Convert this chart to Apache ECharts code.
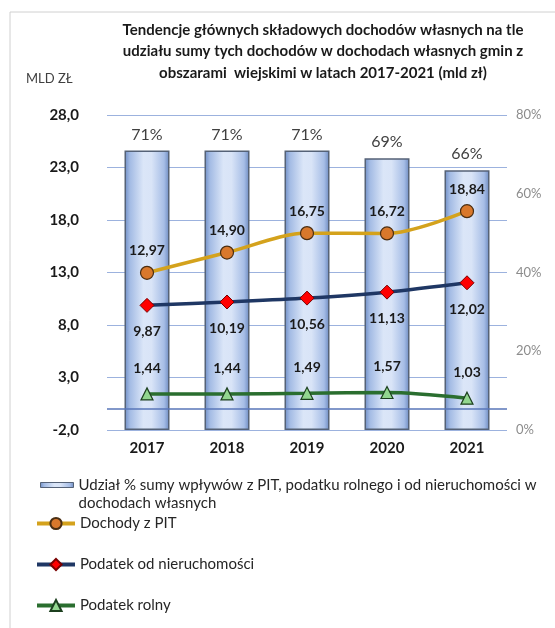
<!DOCTYPE html>
<html>
<head>
<meta charset="utf-8">
<script src="https://cdn.jsdelivr.net/npm/echarts@6/dist/echarts.min.js"></script>
<style>
  html, body { margin: 0; padding: 0; background: #fff; }
  #chart { width: 555px; height: 628px; }
</style>
</head>
<body>
<div id="chart"></div>
<script>
// lata
const years = ['2017', '2018', '2019', '2020', '2021'];
// udział % (prawa oś)
const shareValues = [71, 71, 71, 69, 66];
// mld zł (lewa oś)
const pitValues = [12.97, 14.90, 16.75, 16.72, 18.84];
const propertyTaxValues = [9.87, 10.19, 10.56, 11.13, 12.02];
const agriTaxValues = [1.44, 1.44, 1.49, 1.57, 1.03];

const seriesNames = [
  'Udział % sumy wpływów z PIT, podatku rolnego i od nieruchomości w dochodach własnych',
  'Dochody z PIT',
  'Podatek od nieruchomości',
  'Podatek rolny',
];

const FONT = 'Lato, "Open Sans", sans-serif';
const comma = (v) => Number(v).toFixed(2).replace('.', ',');

const chart = echarts.init(document.getElementById('chart'));

const barGradient = new echarts.graphic.LinearGradient(0, 0, 1, 0, [
  { offset: 0, color: '#6d8cc4' },
  { offset: 0.12, color: '#a3bbe4' },
  { offset: 0.42, color: '#dbe6f8' },
  { offset: 0.6, color: '#d9e4f7' },
  { offset: 0.88, color: '#a6bde6' },
  { offset: 1, color: '#6a88bf' },
]);

// ikonka legendy słupków: cienki pasek przy pierwszej linii tekstu
const barLegendIcon = 'path://M0,0L0,0M0,7L33,7L33,12L0,12ZM0,37L0,37';

const labelFont = {
  fontFamily: FONT,
  fontSize: 14,
  fontWeight: 'bold',
  color: '#1a1a1a',
};

const option = {
  animation: false,
  textStyle: { fontFamily: FONT },
  graphic: [
    {
      type: 'rect',
      shape: { x: 10, y: 12, width: 700, height: 800 },
      style: { fill: 'none', stroke: '#d0d0d0', lineWidth: 1 },
      silent: true,
    },
  ],
  title: [
    {
      text: 'Tendencje głównych składowych dochodów własnych na tle\nudziału sumy tych dochodów w dochodach własnych gmin z\nobszarami  wiejskimi w latach 2017-2021 (mld zł)',
      left: 318,
      top: 14,
      textAlign: 'center',
      textStyle: {
        fontFamily: FONT,
        fontSize: 15,
        fontWeight: 'bold',
        color: '#1a1a1a',
        lineHeight: 21.5,
      },
    },
    {
      text: 'MLD ZŁ',
      left: 21,
      top: 67,
      textStyle: { fontFamily: FONT, fontSize: 13, fontWeight: 'normal', color: '#404040' },
    },
  ],
  legend: [
    {
      data: [{
        name: seriesNames[0],
        icon: barLegendIcon,
        itemStyle: { borderColor: '#556277', borderWidth: 1 },
      }],
      orient: 'vertical',
      left: 40,
      top: 475,
      padding: 0,
      itemWidth: 33,
      itemHeight: 37,
      formatter: () => 'Udział % sumy wpływów z PIT, podatku rolnego i od nieruchomości w\ndochodach własnych',
      textStyle: { fontFamily: FONT, fontSize: 15, color: '#262626', lineHeight: 18.5 },
    },
    {
      data: seriesNames.slice(1),
      orient: 'vertical',
      left: 35,
      top: 516,
      padding: 0,
      itemWidth: 38,
      itemHeight: 14,
      itemGap: 26,
      lineStyle: { width: 4 },
      textStyle: { fontFamily: FONT, fontSize: 15, color: '#262626' },
    },
  ],
  grid: { left: 107, right: 48, top: 115, bottom: 198 },
  xAxis: {
    type: 'category',
    data: years,
    axisLine: { show: false },
    axisTick: { show: false },
    axisLabel: {
      margin: 11, fontFamily: FONT, fontSize: 15, fontWeight: 'bold', color: '#1a1a1a',
    },
  },
  yAxis: [
    {
      type: 'value',
      min: -2,
      max: 28,
      interval: 5,
      axisLine: { show: false },
      axisTick: { show: false },
      splitLine: { lineStyle: { color: '#9cb2de', width: 1 } },
      axisLabel: {
        margin: 28,
        fontFamily: FONT,
        fontSize: 15,
        fontWeight: 'bold',
        color: '#1a1a1a',
        formatter: (v) => v.toFixed(1).replace('.', ','),
      },
    },
    {
      type: 'value',
      min: 0,
      max: 80,
      interval: 20,
      axisLine: { show: false },
      axisTick: { show: false },
      splitLine: { show: false },
      axisLabel: {
        margin: 9, fontFamily: FONT, fontSize: 13, color: '#8c8c8c', formatter: '{value}%',
      },
    },
  ],
  series: [
    {
      name: seriesNames[0],
      type: 'bar',
      yAxisIndex: 1,
      data: shareValues,
      barWidth: 45,
      itemStyle: { color: barGradient, borderColor: '#556277', borderWidth: 1.5 },
      label: {
        show: true,
        position: 'top',
        distance: 8,
        formatter: '{c}%',
        fontFamily: FONT,
        fontSize: 16,
        color: '#404040',
      },
      z: 1,
    },
    {
      name: seriesNames[1],
      type: 'line',
      data: pitValues,
      smooth: 0.3,
      symbol: 'circle',
      symbolSize: 13,
      lineStyle: { color: '#d4a21c', width: 3.5 },
      itemStyle: { color: '#d9782c', borderColor: '#4a2e12', borderWidth: 1.2 },
      label: Object.assign({
        show: true, position: 'top', distance: 8, formatter: (p) => comma(p.value),
      }, labelFont),
      markLine: {
        silent: true,
        symbol: 'none',
        label: { show: false },
        lineStyle: { color: '#5876b8', width: 1.5, type: 'solid' },
        data: [{ yAxis: 0 }],
      },
      z: 3,
    },
    {
      name: seriesNames[2],
      type: 'line',
      data: propertyTaxValues,
      smooth: 0.3,
      symbol: 'diamond',
      symbolSize: 14,
      lineStyle: { color: '#1f3764', width: 3.5 },
      itemStyle: { color: '#ff0000', borderColor: '#7a0000', borderWidth: 1 },
      label: Object.assign({
        show: true, position: 'bottom', distance: 12, formatter: (p) => comma(p.value),
      }, labelFont),
      z: 3,
    },
    {
      name: seriesNames[3],
      type: 'line',
      data: agriTaxValues,
      smooth: 0.3,
      symbol: 'triangle',
      symbolSize: 12,
      lineStyle: { color: '#2a6e2f', width: 3.5 },
      itemStyle: { color: '#92d68f', borderColor: '#1c3f1e', borderWidth: 1.2 },
      label: Object.assign({
        show: true, position: 'top', distance: 12, formatter: (p) => comma(p.value),
      }, labelFont),
      z: 3,
    },
  ],
};

chart.setOption(option);
</script>
</body>
</html>
